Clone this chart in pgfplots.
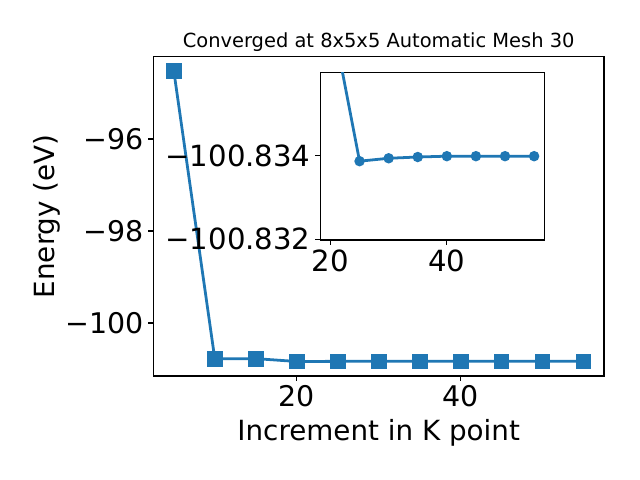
\documentclass[border=0pt]{standalone}
\usepackage{pgfplots}
\pgfplotsset{compat=1.18}
\usepackage{fontspec}
\setmainfont{DejaVu Sans}
\definecolor{mplblue}{HTML}{1F77B4}

% main series: k-point increment vs total energy (eV)
\pgfplotstableread{
x y
5  -94.52
10 -100.78
15 -100.775
20 -100.8375
25 -100.8339
30 -100.8339
35 -100.8340
40 -100.8340
45 -100.8340
50 -100.8340
55 -100.8340
}\maindata

% inset series: energy given as (E + 100.83 eV) in meV, since the fpu cannot hold 8 digits
\pgfplotstableread{
x y
20 -7.50
25 -3.87
30 -3.94
35 -3.97
40 -3.99
45 -3.99
50 -3.99
55 -3.99
}\insetdata

\begin{document}
\begin{tikzpicture}
\path[use as bounding box] (0,0) rectangle (460.8pt,345.6pt);
\pgfplotsset{
  mplaxis/.style={
    scale only axis,
    axis line style={line width=0.8pt},
    tick align=outside, tick pos=left,
    major tick length=3.5pt,
    every tick/.style={black, line width=0.8pt},
    clip=true,
  },
}
\begin{axis}[
  mplaxis,
  at={(110.4pt,74.9pt)}, anchor=south west,
  width=324.5pt, height=229.9pt,
  xmin=2.5, xmax=57.5, ymin=-101.152, ymax=-94.211,
  xtick={20,40}, xticklabels={20,40},
  ytick={-100,-98,-96}, yticklabels={−100,−98,−96},
  ticklabel style={font=\fontsize{20.5}{24}\selectfont},
  xlabel={Increment in K point}, ylabel={Energy (eV)},
  label style={font=\fontsize{20}{24}\selectfont},
  xlabel style={yshift=-2pt},
  ylabel style={yshift=-3pt},
  title={Converged at 8x5x5 Automatic Mesh 30},
  title style={font=\fontsize{14}{17}\selectfont, yshift=-6pt},
]
\addplot[mplblue, line width=2pt, mark=square*, mark size=5.2pt,
  mark options={fill=mplblue, draw=mplblue, line width=0.5pt}] table[x=x,y=y] {\maindata};
\end{axis}

\begin{axis}[
  mplaxis,
  at={(230.6pt,172.8pt)}, anchor=south west,
  width=161.3pt, height=120.7pt,
  axis background/.style={fill=white},
  xmin=18.25, xmax=56.75,
  y dir=reverse, ymin=-6.0, ymax=-1.98,
  xtick={20,40}, xticklabels={20,40},
  ytick={-4,-2}, yticklabels={−100.834,−100.832},
  ticklabel style={font=\fontsize{21}{25}\selectfont},
]
\addplot[mplblue, line width=2pt, mark=*, mark size=2.7pt,
  mark options={fill=mplblue, draw=mplblue}] table[x=x,y=y] {\insetdata};
\end{axis}
\end{tikzpicture}
\end{document}
